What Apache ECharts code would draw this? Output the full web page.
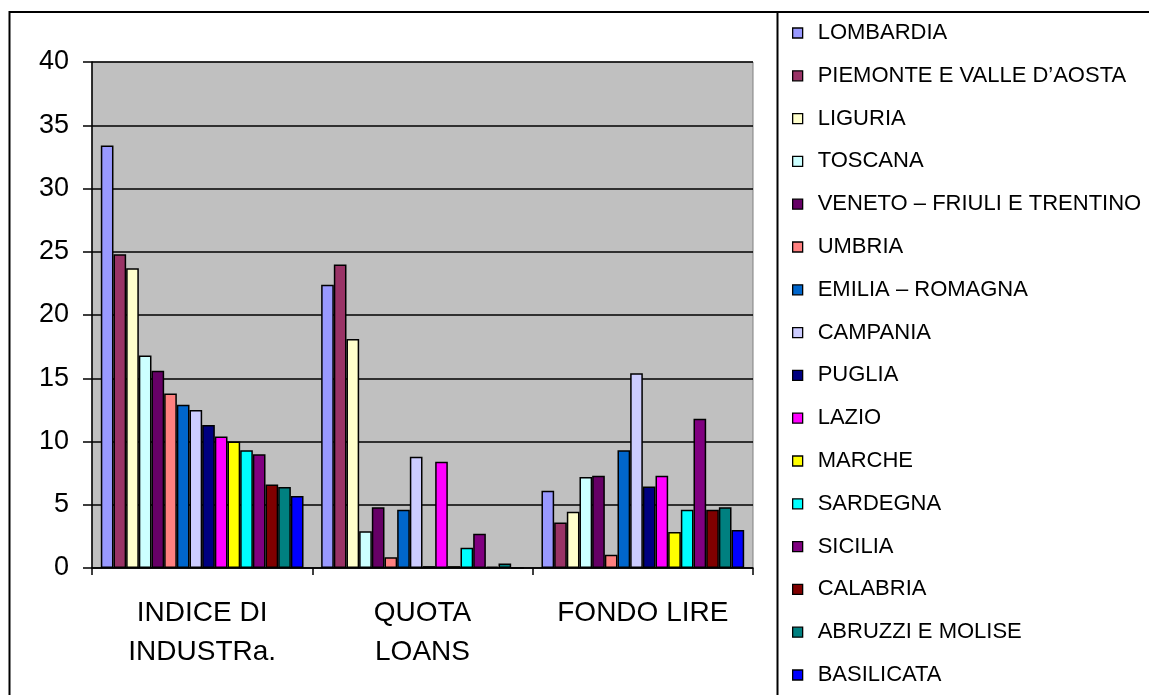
<!DOCTYPE html>
<html>
<head>
<meta charset="utf-8">
<script src="https://cdn.jsdelivr.net/npm/echarts@6/dist/echarts.min.js"></script>
<style>
  html, body { margin: 0; padding: 0; background: #ffffff; }
  #chart { width: 1149px; height: 695px; }
</style>
</head>
<body>
<div id="chart"></div>
<script>
// Categories along the x axis
const categories = ['INDICE DI\nINDUSTRa.', 'QUOTA\nLOANS', 'FONDO LIRE'];

// Regions (one bar series each)
const regions = [
  'LOMBARDIA', 'PIEMONTE E VALLE D\u2019AOSTA', 'LIGURIA', 'TOSCANA',
  'VENETO \u2013 FRIULI E TRENTINO', 'UMBRIA', 'EMILIA \u2013 ROMAGNA', 'CAMPANIA',
  'PUGLIA', 'LAZIO', 'MARCHE', 'SARDEGNA', 'SICILIA', 'CALABRIA',
  'ABRUZZI E MOLISE', 'BASILICATA'
];

// Values per region: [indice di industria, quota loans, fondo lire]
const lombardia  = [33.4, 22.4, 6.1];
const piemonte   = [24.8, 24.0, 3.6];
const liguria    = [23.7, 18.1, 4.45];
const toscana    = [16.8, 2.9, 7.2];
const veneto     = [15.6, 4.8, 7.3];
const umbria     = [13.8, 0.85, 1.05];
const emilia     = [12.9, 4.6, 9.3];
const campania   = [12.5, 8.8, 15.4];
const puglia     = [11.3, 0.15, 6.45];
const lazio      = [10.4, 8.4, 7.3];
const marche     = [10.0, 0.15, 2.85];
const sardegna   = [9.3, 1.6, 4.6];
const sicilia    = [9.0, 2.7, 11.8];
const calabria   = [6.6, 0.1, 4.6];
const abruzzi    = [6.4, 0.35, 4.8];
const basilicata = [5.7, 0, 3.0];

const seriesValues = [
  lombardia, piemonte, liguria, toscana, veneto, umbria, emilia, campania,
  puglia, lazio, marche, sardegna, sicilia, calabria, abruzzi, basilicata
];

const palette = [
  '#9999FF', '#993366', '#FFFFCC', '#CCFFFF', '#660066', '#FF8080', '#0066CC', '#CCCCFF',
  '#000080', '#FF00FF', '#FFFF00', '#00FFFF', '#800080', '#800000', '#008080', '#0000FF'
];

// Y axis tick range
const yMin = 0, yMax = 40, yStep = 5;

const FONT = 'Liberation Sans, Arial, sans-serif';

const chart = echarts.init(document.getElementById('chart'), null, { renderer: 'canvas' });

const option = {
  animation: false,
  color: palette,
  textStyle: { fontFamily: FONT },
  grid: {
    left: 92, top: 62, right: 396, bottom: 127,
    show: true, backgroundColor: '#C0C0C0', borderColor: '#808080', borderWidth: 1
  },
  legend: {
    orient: 'vertical',
    left: 792, top: 22,
    padding: 0,
    icon: 'rect',
    itemWidth: 10, itemHeight: 10,
    itemGap: 20.8,
    itemStyle: { borderColor: '#000', borderWidth: 1.3 },
    textStyle: { fontSize: 22, color: '#000', fontFamily: FONT, lineHeight: 22, padding: [0, 0, 0, 10] },
    data: regions
  },
  xAxis: {
    type: 'category',
    data: categories,
    axisLine: { lineStyle: { color: '#000', width: 1.5 } },
    axisTick: { show: true, length: 7, lineStyle: { color: '#000', width: 1.5 } },
    axisLabel: { fontSize: 28, color: '#000', lineHeight: 39, margin: 26, fontFamily: FONT, interval: 0 },
    splitLine: { show: false }
  },
  yAxis: {
    type: 'value',
    min: yMin, max: yMax, interval: yStep,
    axisLine: { show: true, lineStyle: { color: '#000', width: 1.5 } },
    axisTick: { show: true, length: 9, lineStyle: { color: '#000', width: 1.5 } },
    axisLabel: { fontSize: 27, color: '#000', margin: 23, fontFamily: FONT },
    splitLine: { show: true, lineStyle: { color: '#000', width: 1.5 } }
  },
  series: regions.map((name, i) => ({
    name: name,
    type: 'bar',
    data: seriesValues[i],
    barGap: '0%',
    barCategoryGap: '8%',
    itemStyle: { color: palette[i], borderColor: '#000', borderWidth: 1.5 }
  })),
  graphic: [
    {
      type: 'rect',
      shape: { x: 9.5, y: 12, width: 1200, height: 800 },
      style: { fill: 'none', stroke: '#000', lineWidth: 2 },
      silent: true
    },
    {
      type: 'line',
      shape: { x1: 777.5, y1: 12, x2: 777.5, y2: 700 },
      style: { stroke: '#000', lineWidth: 2 },
      silent: true
    }
  ]
};

chart.setOption(option);
</script>
</body>
</html>
